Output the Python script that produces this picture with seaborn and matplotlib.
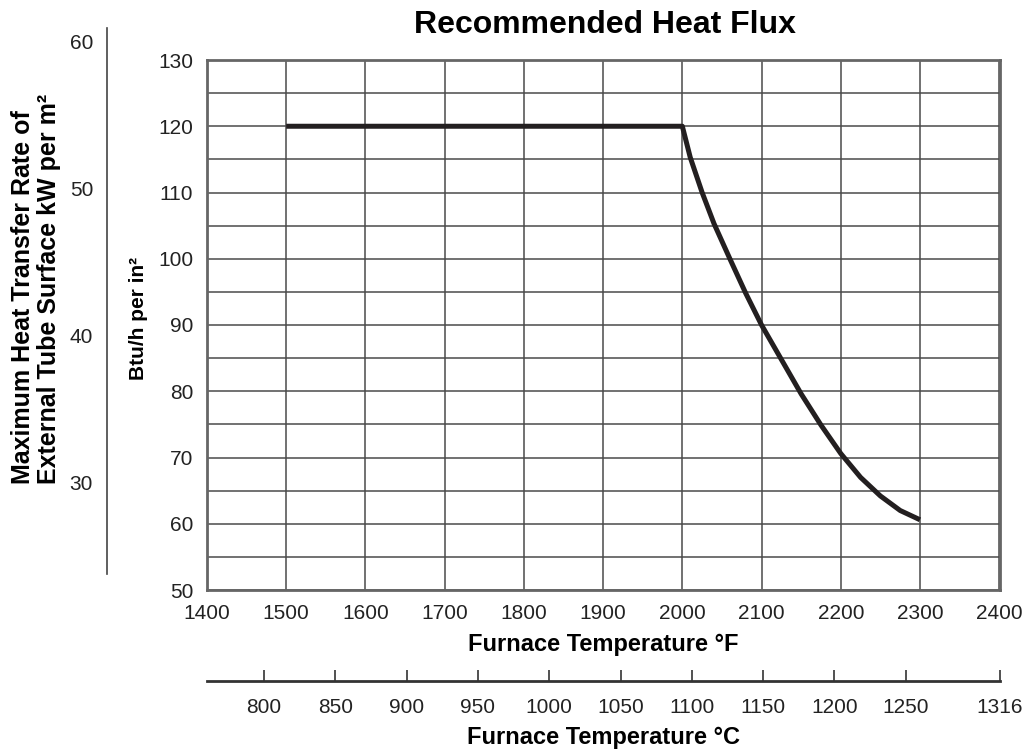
#!/usr/bin/env python3
"""Recommended heat flux vs furnace temperature, with kW/m2 and degC companion scales."""

import matplotlib

matplotlib.use("Agg")

import matplotlib.pyplot as plt
import numpy as np
import pandas as pd
import seaborn as sns


# curve: furnace temperature (F) vs heat flux (Btu/h per in2)
TEMP_F = [1500, 2000, 2010, 2025, 2040, 2060, 2080, 2100, 2125, 2150, 2175, 2200,
          2225, 2250, 2275, 2300]
FLUX_BTU = [120, 120, 115.3, 110, 105.3, 100, 94.8, 90, 84.8, 79.6, 74.9, 70.6,
            67.0, 64.2, 62.0, 60.6]

F_TICKS = [1400, 1500, 1600, 1700, 1800, 1900, 2000, 2100, 2200, 2300, 2400]
BTU_TICKS = [50, 60, 70, 80, 90, 100, 110, 120, 130]
BTU_MINOR = [55, 65, 75, 85, 95, 105, 115, 125]
KW_TICKS = [30, 40, 50, 60]
C_TICKS = [800, 850, 900, 950, 1000, 1050, 1100, 1150, 1200, 1250, 1316]

W, H = 1027, 753
GRID = "#4a4a4a"
FRAME = "#666666"
INK = "#231f20"
TICK_SIZE = 15


def f_to_c(f):
    return (np.asarray(f, dtype=float) - 32.0) * 5.0 / 9.0


def c_to_f(c):
    return np.asarray(c, dtype=float) * 9.0 / 5.0 + 32.0


def main() -> None:
    sns.set_theme(style="white")
    plt.rcParams["font.family"] = ["Liberation Sans", "DejaVu Sans"]

    fig = plt.figure(figsize=(W / 100, H / 100), dpi=100)
    ax = fig.add_axes([207 / W, 1 - 590 / H, 793 / W, 530 / H])

    df = pd.DataFrame({"temp_f": TEMP_F, "flux": FLUX_BTU})
    sns.lineplot(data=df, x="temp_f", y="flux", ax=ax, color=INK, linewidth=3.6,
                 sort=False, zorder=5)
    ax.lines[0].set_solid_capstyle("butt")
    ax.lines[0].set_solid_joinstyle("round")

    # a hair past 2400 F so the 1316 C tick (2400.8 F) is kept
    ax.set_xlim(1400, 2401)
    ax.set_ylim(50, 130)
    ax.set_xticks(F_TICKS)
    ax.set_yticks(BTU_TICKS)
    ax.set_yticks(BTU_MINOR, minor=True)
    ax.grid(True, which="both", axis="both", color=GRID, linewidth=1.1)
    ax.tick_params(axis="both", which="both", direction="out", length=2, width=1.1,
                   color=GRID, labelsize=TICK_SIZE, labelcolor="#222222")
    ax.tick_params(axis="x", pad=8)
    ax.tick_params(axis="y", pad=8)
    for spine in ax.spines.values():
        spine.set_color(FRAME)
        spine.set_linewidth(2.0)

    ax.set_xlabel("Furnace Temperature °F", fontsize=17, fontweight="bold",
                  color="black", labelpad=7)
    ax.set_ylabel("Btu/h per in²", fontsize=15, fontweight="bold", color="black",
                  va="center")
    ax.yaxis.set_label_coords((138 - 207) / 793, (590 - 318) / 530)

    # Celsius scale below the main axes
    sec = ax.secondary_xaxis(-(681 - 590) / 530, functions=(f_to_c, c_to_f))
    sec.set_xticks(C_TICKS)
    sec.tick_params(direction="in", length=8, width=1.2, color="#333333",
                    labelsize=TICK_SIZE, labelcolor="#222222", pad=12)
    sec.spines["bottom"].set_color("#333333")
    sec.spines["bottom"].set_linewidth(2.0)
    sec.set_xlabel("Furnace Temperature °C", fontsize=17, fontweight="bold",
                   color="black", labelpad=7)

    # kW per m2 scale on the far left
    kw = fig.add_axes([107 / W, 1 - 574 / H, 0.02, 546 / H])
    kw.set_ylim(23.81, 60.95)
    kw.set_yticks(KW_TICKS)
    kw.set_xticks([])
    for side in ("top", "right", "bottom"):
        kw.spines[side].set_visible(False)
    kw.spines["left"].set_color("#444444")
    kw.spines["left"].set_linewidth(1.2)
    kw.patch.set_alpha(0)
    kw.tick_params(axis="y", direction="in", length=5, width=1.2, color="#444444",
                   labelsize=TICK_SIZE, labelcolor="#222222", pad=10)

    fig.text(36 / W, 1 - 289 / H,
             "Maximum Heat Transfer Rate of\nExternal Tube Surface kW per m²",
             rotation=90, ha="center", va="center", multialignment="left",
             fontsize=18, fontweight="bold", linespacing=1.1, color="black")

    fig.text(605 / W, 1 - 25 / H, "Recommended Heat Flux", ha="center", va="center",
             fontsize=23, fontweight="bold", color="black")

    fig.savefig("out.png", dpi=100)
    plt.close(fig)


if __name__ == "__main__":
    main()
